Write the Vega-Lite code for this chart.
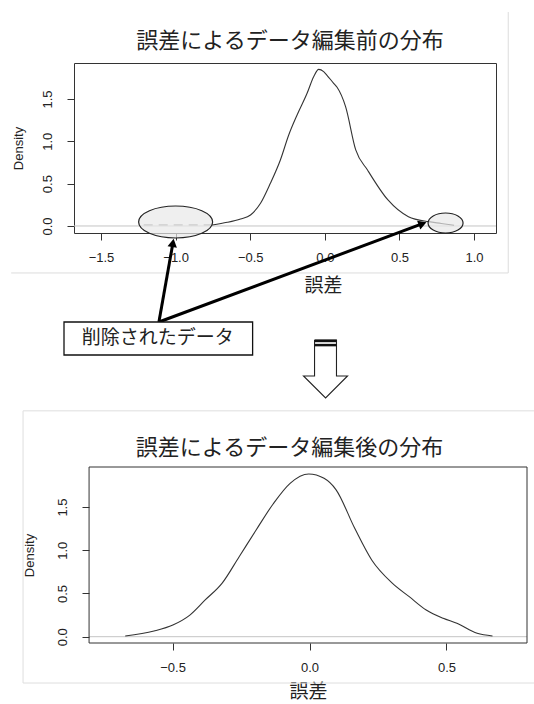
{
  "$schema": "https://vega.github.io/schema/vega-lite/v6.json",
  "background": "white",
  "padding": {"left": 10, "top": 11, "right": 0, "bottom": 0},
  "datasets": {
    "topFrame": [
      {"x": 1.229, "y": 2.527, "x2": 1.229, "y2": -0.555},
      {"x": -2.102, "y": -0.555, "x2": 1.229, "y2": -0.555}
    ],
    "topZero": [{"x": -1.681, "x2": 1.147, "y": 0}],
    "topDash": [{"x": -1.214, "y": 0.012}, {"x": -0.755, "y": 0.012}],
    "topCurve": [
      {"x": -0.755, "y": 0.012}, {"x": -0.654, "y": 0.043}, {"x": -0.565, "y": 0.083},
      {"x": -0.498, "y": 0.13}, {"x": -0.431, "y": 0.268}, {"x": -0.365, "y": 0.504},
      {"x": -0.298, "y": 0.78}, {"x": -0.242, "y": 1.075}, {"x": -0.186, "y": 1.311},
      {"x": -0.119, "y": 1.567}, {"x": -0.075, "y": 1.763}, {"x": -0.041, "y": 1.85},
      {"x": -0.008, "y": 1.823}, {"x": 0.013, "y": 1.783}, {"x": 0.059, "y": 1.685},
      {"x": 0.082, "y": 1.638}, {"x": 0.139, "y": 1.409}, {"x": 0.207, "y": 0.898},
      {"x": 0.286, "y": 0.661}, {"x": 0.423, "y": 0.307}, {"x": 0.56, "y": 0.11},
      {"x": 0.696, "y": 0.051}, {"x": 0.78, "y": 0.03}, {"x": 0.866, "y": 0.008}
    ],
    "ellL": [{"x": -1.0, "y": 0.047}],
    "ellR": [{"x": 0.809, "y": 0.035}],
    "arrows": [
      {"x": -1.112, "y": -1.134, "x2": -1.018, "y2": -0.2},
      {"x": -1.112, "y": -1.134, "x2": 0.655, "y2": 0.027}
    ],
    "headL": [{"x": -1.018, "y": -0.2}],
    "headR": [{"x": 0.655, "y": 0.027}],
    "box": [{"x": -1.748, "x2": -0.484, "y": -1.134, "y2": -1.524}],
    "boxText": [{"x": -1.119, "y": -1.329, "label": "削除されたデータ"}],
    "down": [
      {"i": 1, "x": -0.069, "y": -1.347}, {"i": 2, "x": -0.069, "y": -1.772},
      {"i": 3, "x": -0.143, "y": -1.772}, {"i": 4, "x": 0.005, "y": -2.032},
      {"i": 5, "x": 0.152, "y": -1.772}, {"i": 6, "x": 0.078, "y": -1.772},
      {"i": 7, "x": 0.078, "y": -1.347}, {"i": 8, "x": -0.069, "y": -1.347}
    ],
    "downBars": [
      {"x": -0.069, "x2": 0.078, "y": -1.358},
      {"x": -0.069, "x2": 0.078, "y": -1.407}
    ],
    "botOuter": [{"x": -1.046, "x2": 0.823, "y": -0.536, "y2": 2.614}],
    "botZero": [{"x": -0.805, "x2": 0.794, "y": 0}],
    "botFrame": [{"x": -0.805, "x2": 0.794, "y": -0.073, "y2": 1.964}],
    "botCurve": [
      {"x": -0.673, "y": 0.008}, {"x": -0.568, "y": 0.066}, {"x": -0.499, "y": 0.135},
      {"x": -0.437, "y": 0.25}, {"x": -0.381, "y": 0.425}, {"x": -0.319, "y": 0.62},
      {"x": -0.257, "y": 0.926}, {"x": -0.195, "y": 1.235}, {"x": -0.133, "y": 1.536},
      {"x": -0.071, "y": 1.775}, {"x": -0.003, "y": 1.883}, {"x": 0.053, "y": 1.833},
      {"x": 0.097, "y": 1.7}, {"x": 0.165, "y": 1.254}, {"x": 0.227, "y": 0.888},
      {"x": 0.302, "y": 0.62}, {"x": 0.364, "y": 0.463}, {"x": 0.426, "y": 0.309},
      {"x": 0.488, "y": 0.213}, {"x": 0.538, "y": 0.155}, {"x": 0.612, "y": 0.039},
      {"x": 0.668, "y": 0.008}
    ]
  },
  "vconcat": [
    {
      "width": 422,
      "height": 170,
      "view": {"stroke": "#333", "strokeWidth": 1},
      "title": {"text": "誤差によるデータ編集前の分布", "dx": 5, "offset": -41},
      "encoding": {
        "x": {"field": "x", "type": "quantitative",
          "scale": {"domain": [-1.681, 1.147], "nice": false, "zero": false},
          "axis": {"values": [-1.5, -1, -0.5, 0, 0.5, 1], "title": "誤差", "titleX": 249}},
        "y": {"field": "y", "type": "quantitative",
          "scale": {"domain": [-0.083, 1.925], "nice": false, "zero": false},
          "axis": {"values": [0, 0.5, 1, 1.5], "title": "Density"}}
      },
      "layer": [
        {"data": {"name": "topFrame"}, "mark": {"type": "rule", "color": "#dcdcdc", "strokeWidth": 1, "clip": false},
          "encoding": {"x2": {"field": "x2"}, "y2": {"field": "y2"}}},
        {"data": {"name": "topZero"}, "mark": {"type": "rule", "color": "#c4c4c4", "strokeWidth": 1, "clip": false},
          "encoding": {"x2": {"field": "x2"}}},
        {"data": {"name": "topDash"}, "mark": {"type": "line", "color": "#8a8a8a", "strokeWidth": 1.2, "strokeDash": [9, 6], "clip": false},
          "encoding": {}},
        {"data": {"name": "topCurve"}, "mark": {"type": "line", "color": "#333", "strokeWidth": 1.1, "interpolate": "monotone", "clip": false},
          "encoding": {}},
        {"data": {"name": "ellL"}, "mark": {"type": "point", "shape": "M -1 0 A 1 0.432 0 1 1 1 0 A 1 0.432 0 1 1 -1 0 Z", "size": 5476, "filled": true, "fill": "#e8e8e8", "fillOpacity": 0.7, "stroke": "#222", "strokeWidth": 1.2, "strokeOpacity": 1, "clip": false}},
        {"data": {"name": "ellR"}, "mark": {"type": "point", "shape": "M -1 0 A 1 0.571 0 1 1 1 0 A 1 0.571 0 1 1 -1 0 Z", "size": 1225, "filled": true, "fill": "#e8e8e8", "fillOpacity": 0.7, "stroke": "#222", "strokeWidth": 1.2, "strokeOpacity": 1, "clip": false}},
        {"data": {"name": "arrows"}, "mark": {"type": "rule", "color": "#000", "strokeWidth": 3, "clip": false},
          "encoding": {"x2": {"field": "x2"}, "y2": {"field": "y2"}}},
        {"data": {"name": "headL"}, "mark": {"type": "point", "shape": "triangle-up", "size": 90, "filled": true, "color": "#000", "opacity": 1, "angle": 10, "clip": false}},
        {"data": {"name": "headR"}, "mark": {"type": "point", "shape": "triangle-up", "size": 90, "filled": true, "color": "#000", "opacity": 1, "angle": 70, "clip": false}},
        {"data": {"name": "box"}, "mark": {"type": "rect", "fill": "white", "stroke": "#111", "strokeWidth": 1.3, "clip": false},
          "encoding": {"x2": {"field": "x2"}, "y2": {"field": "y2"}}},
        {"data": {"name": "boxText"}, "mark": {"type": "text", "font": "Noto Sans CJK JP", "fontSize": 19, "color": "#222", "align": "center", "baseline": "middle", "clip": false},
          "encoding": {"text": {"field": "label"}}},
        {"data": {"name": "down"}, "mark": {"type": "line", "color": "#222", "strokeWidth": 1.1, "clip": false},
          "encoding": {"order": {"field": "i"}}},
        {"data": {"name": "downBars"}, "mark": {"type": "rule", "color": "#111", "strokeWidth": 2.5, "clip": false},
          "encoding": {"x2": {"field": "x2"}}}
      ]
    },
    {
      "width": 453,
      "height": 176,
      "view": {"stroke": null},
      "title": {"text": "誤差によるデータ編集後の分布", "dx": -11, "offset": -50},
      "encoding": {
        "x": {"field": "x", "type": "quantitative",
          "scale": {"domain": [-0.86, 0.794], "nice": false, "zero": false},
          "axis": {"values": [-0.5, 0, 0.5], "title": "誤差", "titleX": 234, "titlePadding": 8}},
        "y": {"field": "y", "type": "quantitative",
          "scale": {"domain": [-0.073, 1.964], "nice": false, "zero": false},
          "axis": {"values": [0, 0.5, 1, 1.5], "title": "Density", "offset": -15, "titlePadding": 20}}
      },
      "layer": [
        {"data": {"name": "botOuter"}, "mark": {"type": "rect", "fill": null, "fillOpacity": 0, "stroke": "#dedede", "strokeWidth": 1, "clip": false},
          "encoding": {"x2": {"field": "x2"}, "y2": {"field": "y2"}}},
        {"data": {"name": "botZero"}, "mark": {"type": "rule", "color": "#c4c4c4", "strokeWidth": 1, "clip": false},
          "encoding": {"x2": {"field": "x2"}}},
        {"data": {"name": "botFrame"}, "mark": {"type": "rect", "fill": null, "fillOpacity": 0, "stroke": "#333", "strokeWidth": 1, "clip": false},
          "encoding": {"x2": {"field": "x2"}, "y2": {"field": "y2"}}},
        {"data": {"name": "botCurve"}, "mark": {"type": "line", "color": "#333", "strokeWidth": 1.1, "interpolate": "monotone", "clip": false},
          "encoding": {}}
      ]
    }
  ],
  "spacing": 234,
  "bounds": "flush",
  "config": {
    "view": {"stroke": "#333"},
    "title": {"font": "Noto Sans CJK JP", "fontSize": 22, "fontWeight": "normal", "color": "#222", "anchor": "middle", "frame": "group"},
    "axis": {"domain": false, "grid": false, "ticks": true, "tickColor": "#333", "tickSize": 7, "tickWidth": 1,
      "labelFont": "Liberation Sans", "labelFontSize": 13, "labelColor": "#222",
      "labelFlush": false, "labelOverlap": false, "format": ".1f"},
    "axisX": {"titleFont": "Noto Sans CJK JP", "titleFontSize": 19, "titleFontWeight": "normal", "titleColor": "#222", "titlePadding": 12, "labelPadding": 11},
    "axisY": {"titleFont": "Liberation Sans", "titleFontSize": 13, "titleFontWeight": "normal", "titleColor": "#222", "titlePadding": 16, "labelPadding": 13,
      "labelAngle": -90, "labelAlign": "center", "labelBaseline": "bottom"}
  }
}
